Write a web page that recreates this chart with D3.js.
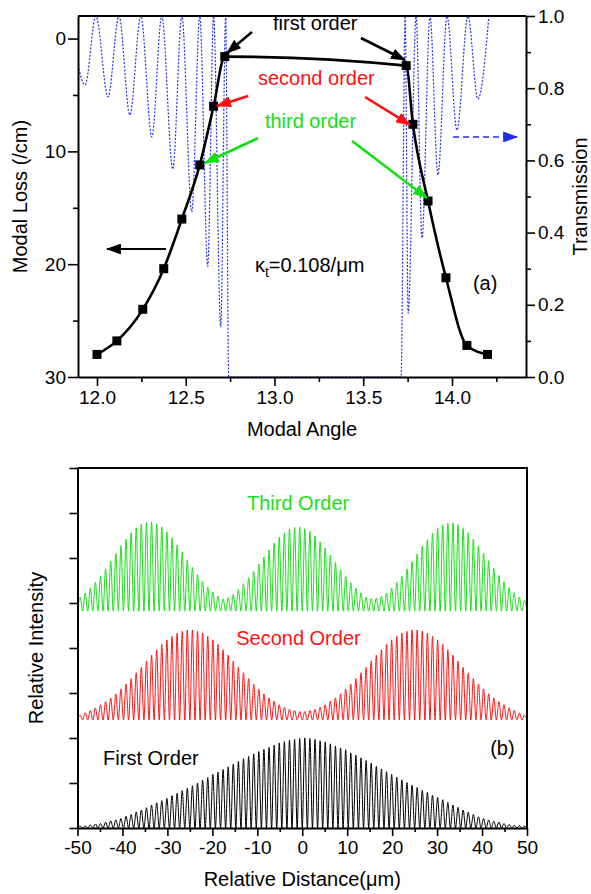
<!DOCTYPE html>
<html>
<head>
<meta charset="utf-8">
<script src="https://cdn.jsdelivr.net/npm/d3@7"></script>
<style>
  body { margin: 0; background: #fff; }
  svg { display: block; font-family: Arial, "Liberation Sans", Helvetica, sans-serif; }
</style>
</head>
<body>
<svg id="chart" width="591" height="894"></svg>
<script>
// ---------- panel (a): modal loss vs modal angle ----------
const lossAngle = [12.0, 12.112, 12.258, 12.376, 12.478, 12.579, 12.657, 12.72, 13.742, 13.78, 13.865, 13.966, 14.084, 14.20];
const lossValue = [28.0, 26.8, 24.0, 20.4, 16.0, 11.2, 6.0, 1.6, 2.4, 7.6, 14.4, 21.2, 27.2, 28.0];

// transmission (dotted blue), turning points
const transAngle = [11.893, 11.933, 11.994, 12.062, 12.124, 12.185, 12.247, 12.309, 12.365, 12.427, 12.478,
                    12.534, 12.579, 12.624, 12.657, 12.697, 12.725, 12.742, 13.713,
                    13.736, 13.753, 13.798, 13.831, 13.876, 13.921, 13.972, 14.028, 14.090, 14.146, 14.208];
const transValue = [0.864, 0.809, 1.0, 0.776, 1.0, 0.726, 1.0, 0.665, 1.0, 0.576, 1.0,
                    0.457, 1.0, 0.307, 1.0, 0.139, 1.0, 0.0, 0.0,
                    1.0, 0.177, 1.0, 0.385, 1.0, 0.560, 1.0, 0.684, 1.0, 0.770, 1.0];

const angleTicks = [12.0, 12.5, 13.0, 13.5, 14.0];
const angleMinor = [12.25, 12.75, 13.25, 13.75, 14.25];
const lossTicks = [0, 10, 20, 30];
const lossMinor = [5, 15, 25];
const transTicks = [0, 0.2, 0.4, 0.6, 0.8, 1.0];
const transMinor = [0.1, 0.3, 0.5, 0.7, 0.9];

// ---------- panel (b): relative intensity ----------
const distTicks = [-50, -40, -30, -20, -10, 0, 10, 20, 30, 40, 50];
const distMinor = [-45, -35, -25, -15, -5, 5, 15, 25, 35, 45];
const intensityTicks = [0, 1, 2, 3, 4, 5, 6, 7, 8];

const fringePitch = 100 / 88;   // about 1.14 um between fringes
const firstBase = 0, secondBase = 2.4, thirdBase = 4.82;

// peak height of each fringe, left to right
const firstPeaks = [0.04,0.05,0.07,0.09,0.10,0.13,0.16,0.18,0.21,0.26,
  0.30,0.36,0.40,0.45,0.51,0.56,0.61,0.66,0.72,0.77,
  0.83,0.88,0.94,1.00,1.06,1.12,1.19,1.24,1.30,1.36,
  1.42,1.48,1.54,1.59,1.65,1.70,1.75,1.79,1.84,1.89,
  1.92,1.95,1.97,1.99,2.00,1.99,1.97,1.94,1.91,1.87,
  1.82,1.78,1.74,1.67,1.62,1.56,1.50,1.44,1.37,1.31,
  1.25,1.19,1.13,1.07,1.01,0.95,0.90,0.84,0.79,0.73,
  0.68,0.63,0.57,0.51,0.46,0.40,0.35,0.30,0.25,0.21,
  0.18,0.15,0.13,0.10,0.08,0.06,0.05,0.04];
const secondPeaks = [0.11,0.16,0.21,0.27,0.34,0.41,0.49,0.58,0.69,0.80,
  0.92,1.05,1.17,1.31,1.44,1.56,1.68,1.78,1.86,1.93,
  1.97,2.00,2.00,1.97,1.93,1.86,1.78,1.68,1.56,1.44,
  1.31,1.17,1.05,0.92,0.80,0.69,0.58,0.49,0.42,0.34,
  0.28,0.24,0.21,0.19,0.19,0.21,0.24,0.28,
  0.34,0.42,0.49,0.58,0.69,0.80,0.92,1.05,1.17,1.31,
  1.44,1.56,1.68,1.78,1.86,1.93,1.97,2.00,2.00,1.97,
  1.93,1.86,1.78,1.68,1.56,1.44,1.31,1.17,1.05,0.92,
  0.80,0.69,0.58,0.49,0.41,0.34,0.27,0.21,0.16,0.11];
const thirdPeaks = [0.31,0.40,0.51,0.64,0.78,0.94,1.11,1.28,1.45,1.60,
  1.74,1.85,1.93,1.97,1.98,1.94,1.87,1.76,1.63,1.47,
  1.31,1.14,0.97,0.81,0.66,0.53,0.42,0.33,0.27,0.30,
  0.37,0.48,0.60,0.74,0.88,1.04,1.20,1.36,1.51,1.64,
  1.74,1.82,1.86,1.87,1.83,1.77,1.67,1.54,1.40,1.24,
  1.08,0.92,0.77,0.63,0.51,0.40,0.31,0.28,0.29,0.33,
  0.40,0.51,0.64,0.78,0.94,1.10,1.27,1.44,1.59,1.73,
  1.84,1.91,1.95,1.96,1.92,1.84,1.74,1.60,1.45,1.29,
  1.12,0.95,0.79,0.65,0.52,0.41,0.31,0.24];

const svg = d3.select("#chart");
const font = 'Arial, "Liberation Sans", Helvetica, sans-serif';

// arrow heads
const defs = svg.append("defs");
[["black", "#000"], ["red", "#ff1010"], ["green", "#10e010"], ["blue", "#1f2fe8"]].forEach(([id, c]) => {
    defs.append("marker")
        .attr("id", "head-" + id)
        .attr("markerUnits", "userSpaceOnUse")
        .attr("markerWidth", 15).attr("markerHeight", 11)
        .attr("refX", 14).attr("refY", 5.5)
        .attr("orient", "auto")
        .append("path")
        .attr("d", "M0,0 L15,5.5 L0,11 Z")
        .attr("fill", c);
});

function styleAxis(g) {
    g.attr("font-size", 19).attr("font-family", font);
    g.select(".domain").attr("stroke-width", 2);
    g.selectAll(".tick line").attr("stroke-width", 1.6);
    g.selectAll(".tick text").attr("fill", "#000");
}

// ================= panel (a) =================
const pa = { left: 78, right: 526, top: 16, bottom: 377 };
const xA = d3.scaleLinear().domain([11.893, 14.417]).range([pa.left, pa.right]);
const yLoss = d3.scaleLinear().domain([-2, 30]).range([pa.top, pa.bottom]);
const yTrans = d3.scaleLinear().domain([0, 1]).range([pa.bottom, pa.top]);

defs.append("clipPath").attr("id", "clipA")
    .append("rect").attr("x", pa.left).attr("y", pa.top - 1)
    .attr("width", pa.right - pa.left).attr("height", pa.bottom - pa.top + 1);

// transmission curve
const transLine = d3.line()
    .x((d, i) => xA(transAngle[i]))
    .y(d => yTrans(d))
    .curve(d3.curveMonotoneX);
svg.append("path")
    .datum(transValue)
    .attr("clip-path", "url(#clipA)")
    .attr("fill", "none")
    .attr("stroke", "#2a33e0")
    .attr("stroke-width", 1.2)
    .attr("stroke-dasharray", "2,1.6")
    .attr("d", transLine);

// modal loss curve
const lossLine = d3.line()
    .x((d, i) => xA(lossAngle[i]))
    .y(d => yLoss(d))
    .curve(d3.curveMonotoneX);
svg.append("path")
    .datum(lossValue)
    .attr("fill", "none")
    .attr("stroke", "#000")
    .attr("stroke-width", 2.6)
    .attr("d", lossLine);
svg.append("g").selectAll("rect")
    .data(lossValue)
    .join("rect")
    .attr("x", (d, i) => xA(lossAngle[i]) - 4.5)
    .attr("y", d => yLoss(d) - 4.5)
    .attr("width", 9).attr("height", 9)
    .attr("fill", "#000");

// axes
const gxA = svg.append("g").attr("transform", `translate(0,${pa.bottom})`)
    .call(d3.axisBottom(xA).tickValues(angleTicks).tickSize(9).tickSizeOuter(0).tickPadding(5).tickFormat(d3.format(".1f")));
styleAxis(gxA);
const gxAm = svg.append("g").attr("transform", `translate(0,${pa.bottom})`)
    .call(d3.axisBottom(xA).tickValues(angleMinor).tickSize(5).tickFormat(""));
styleAxis(gxAm); gxAm.select(".domain").remove();

const gyL = svg.append("g").attr("transform", `translate(${pa.left},0)`)
    .call(d3.axisLeft(yLoss).tickValues(lossTicks).tickSize(10).tickSizeOuter(0).tickPadding(2).tickFormat(d3.format("d")));
styleAxis(gyL);
const gyLm = svg.append("g").attr("transform", `translate(${pa.left},0)`)
    .call(d3.axisLeft(yLoss).tickValues(lossMinor).tickSize(5).tickFormat(""));
styleAxis(gyLm); gyLm.select(".domain").remove();

const gyR = svg.append("g").attr("transform", `translate(${pa.right},0)`)
    .call(d3.axisRight(yTrans).tickValues(transTicks).tickSize(9).tickSizeOuter(0).tickPadding(3).tickFormat(d3.format(".1f")));
styleAxis(gyR);
const gyRm = svg.append("g").attr("transform", `translate(${pa.right},0)`)
    .call(d3.axisRight(yTrans).tickValues(transMinor).tickSize(5).tickFormat(""));
styleAxis(gyRm); gyRm.select(".domain").remove();

svg.append("line")
    .attr("x1", pa.left).attr("x2", pa.right)
    .attr("y1", pa.top).attr("y2", pa.top)
    .attr("stroke", "#000").attr("stroke-width", 2);

// axis titles
svg.append("text").attr("x", (pa.left + pa.right) / 2).attr("y", 436)
    .attr("text-anchor", "middle").attr("font-size", 20).text("Modal Angle");
svg.append("text").attr("transform", `translate(27,${(pa.top + pa.bottom) / 2}) rotate(-90)`)
    .attr("text-anchor", "middle").attr("font-size", 20).text("Modal Loss (/cm)");
svg.append("text").attr("transform", `translate(587,${(pa.top + pa.bottom) / 2}) rotate(-90)`)
    .attr("text-anchor", "middle").attr("font-size", 20).text("Transmission");

// annotations in data units (angle, loss)
const arrowsA = [
    { from: [12.873, -0.58], to: [12.732, 1.28], c: "black", col: "#000" },
    { from: [13.487, -0.05], to: [13.735, 1.90], c: "black", col: "#000" },
    { from: [12.851, 5.09], to: [12.676, 5.98], c: "red", col: "#ff1010" },
    { from: [13.510, 5.18], to: [13.764, 7.66], c: "red", col: "#ff1010" },
    { from: [12.907, 8.82], to: [12.608, 11.03], c: "green", col: "#10e010" },
    { from: [13.437, 9.08], to: [13.859, 14.13], c: "green", col: "#10e010" },
    { from: [12.389, 18.66], to: [12.056, 18.66], c: "black", col: "#000", w: 2 }
];
svg.append("g").selectAll("line")
    .data(arrowsA)
    .join("line")
    .attr("x1", d => xA(d.from[0])).attr("y1", d => yLoss(d.from[1]))
    .attr("x2", d => xA(d.to[0])).attr("y2", d => yLoss(d.to[1]))
    .attr("stroke", d => d.col)
    .attr("stroke-width", d => d.w || 2.6)
    .attr("marker-end", d => `url(#head-${d.c})`);

// transmission-axis pointer
svg.append("line")
    .attr("x1", xA(14.006)).attr("x2", xA(14.367))
    .attr("y1", yTrans(0.665)).attr("y2", yTrans(0.665))
    .attr("stroke", "#1f2fe8").attr("stroke-width", 1.6)
    .attr("stroke-dasharray", "6,4")
    .attr("marker-end", "url(#head-blue)");

const labelsA = [
    { t: "first order", x: 12.992, y: -0.76, col: "#000" },
    { t: "second order", x: 12.907, y: 4.12, col: "#ff1010" },
    { t: "third order", x: 12.946, y: 7.93, col: "#10e010" },
    { t: "(a)", x: 14.118, y: 22.3, col: "#000" }
];
svg.append("g").selectAll("text")
    .data(labelsA)
    .join("text")
    .attr("x", d => xA(d.x)).attr("y", d => yLoss(d.y))
    .attr("font-size", 20).attr("fill", d => d.col)
    .text(d => d.t);

const kappa = svg.append("text")
    .attr("x", xA(12.890)).attr("y", yLoss(20.7))
    .attr("font-size", 20);
kappa.append("tspan").text("\u03ba");
kappa.append("tspan").attr("dy", 5).attr("font-size", 14).text("t");
kappa.append("tspan").attr("dy", -5).text("=0.108/\u03bcm");

// ================= panel (b) =================
const pb = { left: 77.5, right: 527, top: 468, bottom: 828 };
const xB = d3.scaleLinear().domain([-50, 50]).range([pb.left, pb.right]);
const yB = d3.scaleLinear().domain([0, 8]).range([pb.bottom, pb.top]);

function fringePoints(peaks, base) {
    const pts = [[-50, base]];
    peaks.forEach((h, i) => {
        const c = -50 + (i + 0.5) * fringePitch;
        pts.push([c, base + h]);
        pts.push([c + fringePitch / 2, base]);
    });
    return pts;
}
const fringeLine = d3.line()
    .x(d => xB(d[0]))
    .y(d => yB(d[1]))
    .curve(d3.curveMonotoneX);

const traces = [
    { peaks: thirdPeaks, base: thirdBase, col: "#18e018" },
    { peaks: secondPeaks, base: secondBase, col: "#ff1414" },
    { peaks: firstPeaks, base: firstBase, col: "#000" }
];
svg.append("g").selectAll("path")
    .data(traces)
    .join("path")
    .attr("fill", "none")
    .attr("stroke", d => d.col)
    .attr("stroke-width", 1)
    .attr("d", d => fringeLine(fringePoints(d.peaks, d.base)));

const gxB = svg.append("g").attr("transform", `translate(0,${pb.bottom})`)
    .call(d3.axisBottom(xB).tickValues(distTicks).tickSize(8).tickSizeOuter(0).tickPadding(5).tickFormat(d => String(d)));
styleAxis(gxB);
const gxBm = svg.append("g").attr("transform", `translate(0,${pb.bottom})`)
    .call(d3.axisBottom(xB).tickValues(distMinor).tickSize(4).tickFormat(""));
styleAxis(gxBm); gxBm.select(".domain").remove();

const gyB = svg.append("g").attr("transform", `translate(${pb.left},0)`)
    .call(d3.axisLeft(yB).tickValues(intensityTicks).tickSize(8).tickSizeOuter(0).tickFormat(""));
styleAxis(gyB);

svg.append("path")
    .attr("d", `M${pb.left},${pb.top} H${pb.right} V${pb.bottom}`)
    .attr("fill", "none").attr("stroke", "#000").attr("stroke-width", 2);

svg.append("text").attr("x", (pb.left + pb.right) / 2).attr("y", 886)
    .attr("text-anchor", "middle").attr("font-size", 20).text("Relative Distance(\u03bcm)");
svg.append("text").attr("transform", `translate(43,${(pb.top + pb.bottom) / 2}) rotate(-90)`)
    .attr("text-anchor", "middle").attr("font-size", 20).text("Relative Intensity");

const labelsB = [
    { t: "Third Order", x: -12.3, y: 7.07, col: "#18e018" },
    { t: "Second Order", x: -14.7, y: 4.07, col: "#ff1414" },
    { t: "First Order", x: -44.3, y: 1.4, col: "#000" },
    { t: "(b)", x: 41.8, y: 1.62, col: "#000" }
];
svg.append("g").selectAll("text")
    .data(labelsB)
    .join("text")
    .attr("x", d => xB(d.x)).attr("y", d => yB(d.y))
    .attr("font-size", 20).attr("fill", d => d.col)
    .text(d => d.t);
</script>
</body>
</html>
